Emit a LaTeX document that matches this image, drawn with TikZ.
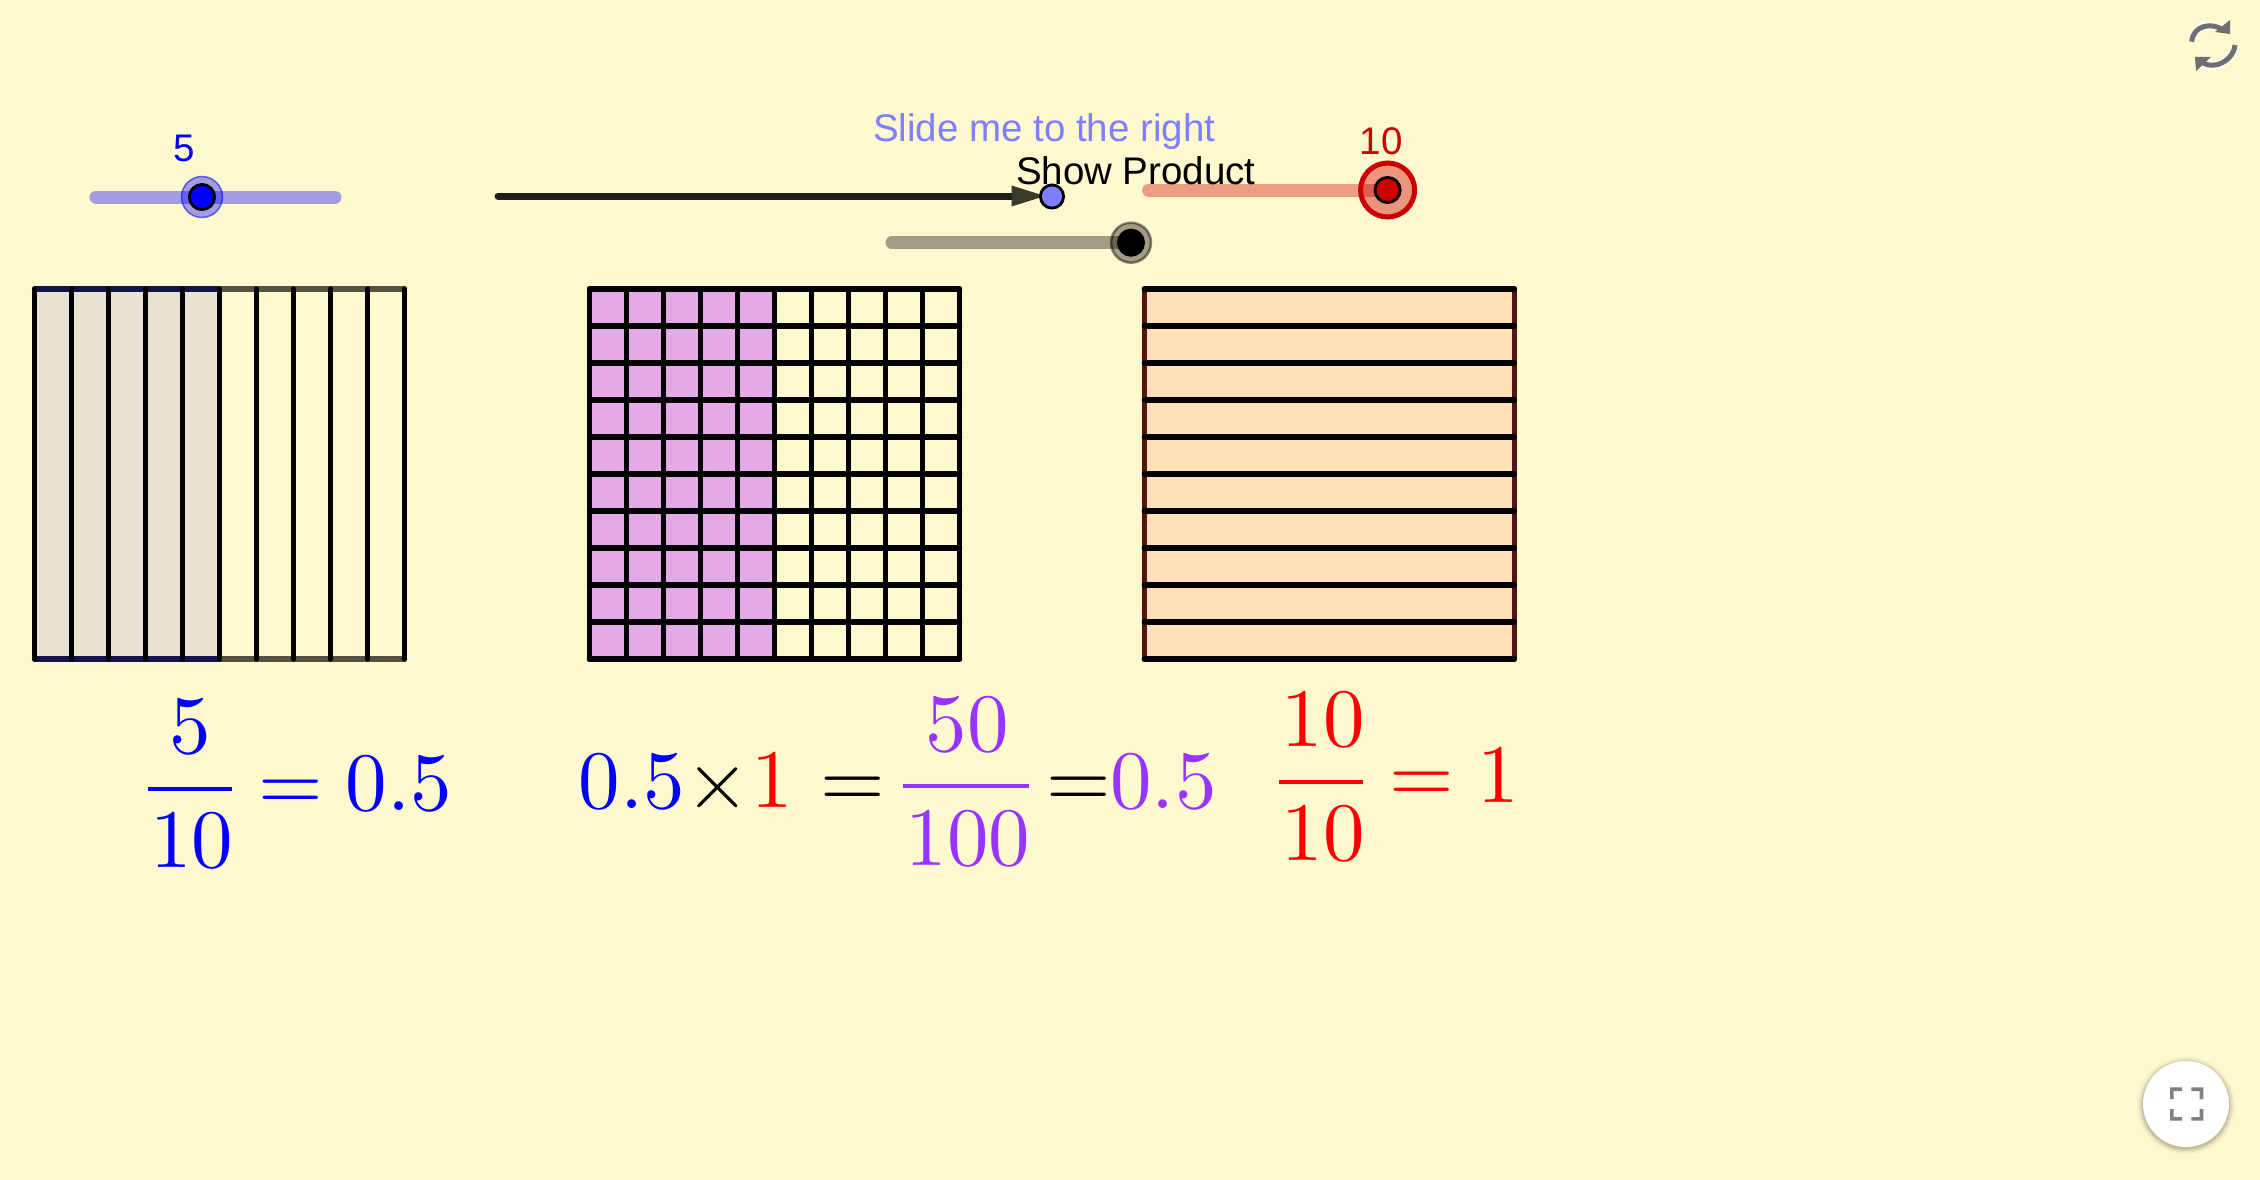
\documentclass[tikz,border=0pt]{standalone}
\usepackage{fontspec}
\newfontfamily\sansf{Liberation Sans}
\newfontfamily\eqf{lmroman10-regular.otf}
\definecolor{bgc}{HTML}{FFF9CF}
\definecolor{tanc}{HTML}{E8E2D4}
\definecolor{pinkc}{HTML}{E4AAE8}
\definecolor{peach}{HTML}{FFE0B8}
\definecolor{navy}{HTML}{14144A}
\definecolor{olivec}{HTML}{55523F}
\definecolor{maroonc}{HTML}{541414}
\definecolor{slideblue}{HTML}{7F7FFF}
\definecolor{darkred}{HTML}{CC0000}
\definecolor{purplec}{HTML}{9933FF}
\definecolor{icongray}{HTML}{6F6F6F}
\definecolor{arrowline}{HTML}{1E1E14}
\definecolor{arrowhead}{HTML}{3A3A2A}
\tikzset{
  gridline/.style={line width=5.5pt,line cap=round,draw=black},
  sliderlabel/.style={inner sep=0pt,outer sep=0pt,anchor=base,font=\sansf\fontsize{38.5}{38.5}\selectfont},
  caption/.style={inner sep=0pt,outer sep=0pt,anchor=base west,font=\sansf\fontsize{38.5}{38.5}\selectfont},
  eqtext/.style={inner sep=0pt,outer sep=0pt,anchor=base,font=\eqf\fontsize{83}{83}\selectfont},
  fracbar/.style={line width=4pt},
  track/.style={line width=13pt,line cap=round,draw opacity=.37},
  innerknob/.style={line width=2.8pt,draw=black},
}
\begin{document}
\begin{tikzpicture}[x=1pt,y=-1pt]
\fill[bgc] (0,0) rectangle (2260,1180);
\path[use as bounding box] (0,0) rectangle (2260,1180);

% left grid
\fill[tanc] (34.7,289) rectangle (219.7,659);
\draw[gridline,draw=navy] (34.7,289) -- (219.7,289);
\draw[gridline,draw=navy] (34.7,659) -- (219.7,659);
\draw[gridline,draw=olivec] (219.7,289) -- (404.4,289);
\draw[gridline,draw=olivec] (219.7,659) -- (404.4,659);
\foreach \i in {0,...,10} \draw[gridline] ({34.7+36.97*\i},289) -- ({34.7+36.97*\i},659);

% centre grid
\fill[pinkc] (589.5,289) rectangle (774.5,659);
\foreach \i in {0,...,10} {
  \draw[gridline] ({589.5+37*\i},289) -- ({589.5+37*\i},659);
  \draw[gridline] (589.5,{289+37*\i}) -- (959.5,{289+37*\i});
}

% right grid
\fill[peach] (1144.3,289) rectangle (1514.3,659);
\draw[gridline,draw=maroonc] (1144.3,289) -- (1144.3,659);
\draw[gridline,draw=maroonc] (1514.3,289) -- (1514.3,659);
\foreach \i in {0,...,10} \draw[gridline] (1144.3,{289+37*\i}) -- (1514.3,{289+37*\i});

% blue slider
\draw[track,draw=blue] (96,197) -- (335,197);
\path[fill=blue,fill opacity=.37,draw=blue,draw opacity=.55,line width=1.5pt] (202,197) circle (20.5);
\draw[innerknob,fill=blue] (202,197) circle (12.6);
\node[sliderlabel,text=blue] (valfive) at (184,161) {5};

% arrow with movable point
\coordinate (arrowstart) at (498,196);
\coordinate (arrowbase) at (1012,196);
\coordinate (arrowtip) at (1045,196);
\draw[line width=7pt,line cap=round,draw=arrowline] (arrowstart) -- (arrowbase);
\fill[arrowhead] (1011.5,185.5) -- (arrowtip) -- (1011.5,206.5) -- cycle;
\draw[innerknob,fill=slideblue] (1052,196.5) circle (11.6);

% grey slider
\draw[track,draw=black] (892,242.7) -- (1131,242.7);
\path[fill=black,fill opacity=.37,draw=black,draw opacity=.45,line width=2.5pt] (1131,242.7) circle (20);
\draw[innerknob,fill=black] (1131,242.7) circle (12.6);

% red slider
\draw[track,draw=darkred] (1148.6,190) -- (1387.6,190);
\path[fill=darkred,fill opacity=.4,draw=darkred,line width=5pt] (1387.6,190) circle (27);
\draw[innerknob,fill=darkred] (1387.6,190) circle (12.6);
\node[sliderlabel,text=darkred] (valten) at (1381,154) {10};

% captions
\node[caption,text=slideblue] (slidecap) at (873,142) {Slide me to the right};
\node[caption,text=black] (prodcap) at (1016,185) {Show Product};

% formula 1
\node[eqtext,text=blue] (fa) at (190,753) {5};
\draw[fracbar,draw=blue] (147.8,789) -- (231.7,789);
\node[eqtext,text=blue] (fb) at (191.5,867) {10};
\node[eqtext,text=blue] (fc) at (290.5,810) {=};
\node[eqtext,text=blue] (fd) at (399,810) {0.5};

% formula 2
\node[eqtext,text=blue] (ga) at (632,808) {0.5};
\node[eqtext,text=black] (gb) at (718,808) {×};
\node[eqtext,text=red] (gc) at (772,807) {1};
\node[eqtext,text=black] (gd) at (853,807) {=};
\node[eqtext,text=purplec] (ge) at (967,751) {50};
\draw[fracbar,draw=purplec] (903,786) -- (1029,786);
\node[eqtext,text=purplec] (gf) at (968,865) {100};
\node[eqtext,text=black] (gg) at (1078.5,807) {=};
\node[eqtext,text=purplec] (gh) at (1163.5,808) {0.5};

% formula 3
\node[eqtext,text=red] (ha) at (1323,746) {10};
\draw[fracbar,draw=red] (1278.5,781.7) -- (1362.7,781.7);
\node[eqtext,text=red] (hb) at (1323,860) {10};
\node[eqtext,text=red] (hc) at (1421.5,802.7) {=};
\node[eqtext,text=red] (hd) at (1498.5,802.7) {1};

% refresh icon
\begin{scope}[draw=white,fill=white,opacity=.7]
  \draw[line width=9pt] (2191.7,41.7) .. controls (2193,25) and (2212,22) .. (2223,30);
  \draw[line width=9pt] (2235,45) .. controls (2234,60) and (2215,70) .. (2203,63);
\end{scope}
\draw[icongray,line width=5pt] (2191.7,41.7) .. controls (2193,25) and (2212,22) .. (2223,30);
\draw[icongray,line width=5pt] (2235,45) .. controls (2234,60) and (2215,70) .. (2203,63);
\fill[icongray] (2230,20) -- (2230,34) -- (2215,32) -- cycle;
\fill[icongray] (2195,57) -- (2211,57) -- (2196,71) -- cycle;

% fullscreen button
\foreach \r/\o in {49/.03,47/.05,45.5/.07,44/.10} \fill[black,opacity=\o] (2186,1105.5) circle (\r);
\fill[white] (2186,1104) circle (43);
\fill[black!50] (2170,1087.3) -- (2182,1087.3) -- (2182,1091) -- (2173.7,1091) -- (2173.7,1099) -- (2170,1099) -- cycle;
\fill[black!50] (2203.3,1087.3) -- (2191.3,1087.3) -- (2191.3,1091) -- (2199.6,1091) -- (2199.6,1099) -- (2203.3,1099) -- cycle;
\fill[black!50] (2170,1120.7) -- (2182,1120.7) -- (2182,1117) -- (2173.7,1117) -- (2173.7,1109) -- (2170,1109) -- cycle;
\fill[black!50] (2203.3,1120.7) -- (2191.3,1120.7) -- (2191.3,1117) -- (2199.6,1117) -- (2199.6,1109) -- (2203.3,1109) -- cycle;
\end{tikzpicture}
\end{document}
